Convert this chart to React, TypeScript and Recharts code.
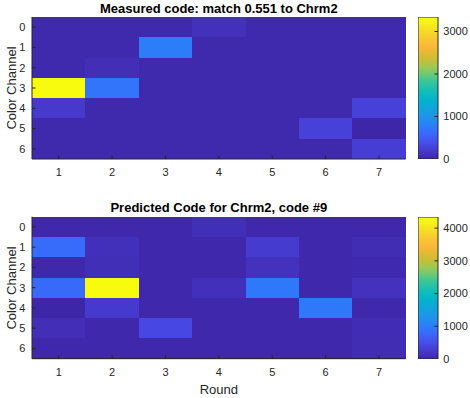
import React from 'react';
import { ScatterChart, Scatter, XAxis, YAxis, ReferenceArea, BarChart, Bar } from 'recharts';

// ---------------- data ----------------
const rounds = [1, 2, 3, 4, 5, 6, 7];
const channels = [0, 1, 2, 3, 4, 5, 6];

// rows = color channel 0..6, columns = round 1..7
const measuredCode = [
  [25, 25, 25, 100, 25, 25, 25],
  [25, 25, 780, 25, 25, 25, 25],
  [25, 80, 25, 25, 25, 25, 25],
  [3340, 700, 25, 25, 25, 25, 25],
  [185, 25, 25, 25, 25, 25, 270],
  [25, 25, 25, 25, 25, 270, 0],
  [25, 25, 25, 25, 25, 25, 240],
];

const predictedCode = [
  [30, 30, 30, 110, 30, 30, 30],
  [820, 120, 30, 30, 270, 30, 80],
  [30, 110, 30, 30, 150, 30, 40],
  [800, 4340, 30, 120, 950, 30, 150],
  [0, 260, 30, 30, 30, 950, 30],
  [100, 30, 430, 30, 30, 30, 90],
  [30, 30, 30, 30, 30, 30, 80],
];

const measuredColorbarTicks = [0, 1000, 2000, 3000];
const predictedColorbarTicks = [0, 1000, 2000, 3000, 4000];

const measuredTitle = 'Measured code: match 0.551 to Chrm2';
const predictedTitle = 'Predicted Code for Chrm2, code #9';
const yLabel = 'Color Channel';
const xLabel = 'Round';

// ---------------- style ----------------
const FONT = '"Liberation Sans", Arial, Helvetica, sans-serif';
const AXIS = '#262626';
const TICK_LEN = 3.5;
const TICK_FONT = 11;
const LEFT_MARGIN = 6.7;
const BOTTOM_MARGIN = 9.5;

// parula colormap anchors (t, r, g, b)
const PARULA: [number, number, number, number][] = [
  [0.0, 62, 38, 168],
  [0.05, 70, 55, 200],
  [0.1, 71, 72, 228],
  [0.15, 66, 92, 245],
  [0.2, 52, 113, 253],
  [0.25, 40, 132, 245],
  [0.3, 30, 148, 232],
  [0.35, 20, 162, 222],
  [0.4, 5, 175, 210],
  [0.45, 10, 185, 195],
  [0.5, 30, 192, 175],
  [0.55, 60, 198, 150],
  [0.6, 110, 202, 115],
  [0.65, 160, 200, 80],
  [0.7, 200, 190, 55],
  [0.75, 230, 185, 50],
  [0.8, 252, 185, 60],
  [0.85, 250, 200, 50],
  [0.9, 245, 220, 40],
  [0.95, 245, 238, 30],
  [1.0, 249, 251, 14],
];

function parula(t: number): string {
  const c = Math.max(0, Math.min(1, t));
  for (let i = 1; i < PARULA.length; i++) {
    const a = PARULA[i - 1];
    const b = PARULA[i];
    if (c <= b[0]) {
      const f = (c - a[0]) / (b[0] - a[0]);
      const r = Math.round(a[1] + (b[1] - a[1]) * f);
      const g = Math.round(a[2] + (b[2] - a[2]) * f);
      const bl = Math.round(a[3] + (b[3] - a[3]) * f);
      return `rgb(${r},${g},${bl})`;
    }
  }
  const l = PARULA[PARULA.length - 1];
  return `rgb(${l[1]},${l[2]},${l[3]})`;
}

// ---------------- ticks ----------------
const LeftTick = (props: any) => {
  const { x, y, payload } = props;
  return (
    <g>
      <line x1={x + LEFT_MARGIN} x2={x + LEFT_MARGIN + TICK_LEN} y1={y} y2={y} stroke={AXIS} strokeWidth={1} />
      <text x={x} y={y} dy="0.355em" textAnchor="end" fontSize={TICK_FONT} fill={AXIS} fontFamily={FONT}>
        {payload.value}
      </text>
    </g>
  );
};

const BottomTick = (props: any) => {
  const { x, y, payload } = props;
  return (
    <g>
      <line x1={x} x2={x} y1={y - BOTTOM_MARGIN} y2={y - BOTTOM_MARGIN - TICK_LEN} stroke={AXIS} strokeWidth={1} />
      <text x={x} y={y} dy="0.71em" textAnchor="middle" fontSize={TICK_FONT} fill={AXIS} fontFamily={FONT}>
        {payload.value}
      </text>
    </g>
  );
};

const RightTick = (props: any) => {
  const { x, y } = props;
  return <line x1={x} x2={x - TICK_LEN} y1={y} y2={y} stroke={AXIS} strokeWidth={1} />;
};

const TopTick = (props: any) => {
  const { x, y } = props;
  return <line x1={x} x2={x} y1={y} y2={y + TICK_LEN} stroke={AXIS} strokeWidth={1} />;
};

const CB_MARGIN = 5.3;
const ColorbarTick = (props: any) => {
  const { x, y, payload, index } = props;
  return (
    <g>
      {index > 0 ? (
        <line x1={x - CB_MARGIN} x2={x - CB_MARGIN - TICK_LEN} y1={y} y2={y} stroke={AXIS} strokeWidth={1} />
      ) : null}
      <text x={x} y={y} dy="0.355em" textAnchor="start" fontSize={TICK_FONT} fill={AXIS} fontFamily={FONT}>
        {payload.value}
      </text>
    </g>
  );
};

const CellShape = (props: any) => {
  const { x, y, width, height, fill } = props;
  return <rect x={x} y={y} width={width} height={height} fill={fill} stroke="none" shapeRendering="crispEdges" />;
};

// ---------------- heatmap ----------------
type HeatProps = {
  data: number[][];
  ticks: number[];
  top: number;
  plotTop: number;
  gradId: string;
};

function Heatmap({ data, ticks, top, plotTop, gradId }: HeatProps) {
  const flat = data.flat();
  const min = Math.min(...flat);
  const max = Math.max(...flat);
  const cells = channels.flatMap((ch, r) =>
    rounds.map((rd, c) => ({ round: rd, channel: ch, value: data[r][c] }))
  );
  const plotH = 142;
  const chartH = plotTop + plotH + 31;
  return (
    <>
      <div style={{ position: 'absolute', left: 0, top, width: 420, height: chartH }}>
        <ScatterChart width={420} height={chartH} margin={{ top: plotTop, right: 14.3, bottom: 0, left: 0 }}>
          {cells.map((cell, i) => (
            <ReferenceArea
              key={i}
              x1={cell.round - 0.5}
              x2={cell.round + 0.5}
              y1={cell.channel - 0.5}
              y2={cell.channel + 0.5}
              fill={parula((cell.value - min) / (max - min))}
              fillOpacity={1}
              stroke="none"
              ifOverflow="visible"
              shape={<CellShape />}
            />
          ))}
          <Scatter data={cells} dataKey="value" isAnimationActive={false} shape={() => <g />} />
          <XAxis
            type="number"
            dataKey="round"
            domain={[0.5, 7.5]}
            ticks={rounds}
            allowDataOverflow
            height={31}
            tickSize={0}
            tickMargin={BOTTOM_MARGIN}
            tickLine={false}
            axisLine={{ stroke: AXIS, strokeWidth: 1 }}
            tick={<BottomTick />}
            interval={0}
          />
          <XAxis
            xAxisId="top"
            orientation="top"
            type="number"
            domain={[0.5, 7.5]}
            ticks={rounds}
            allowDataOverflow
            height={0}
            tickSize={0}
            tickMargin={0}
            tickLine={false}
            axisLine={{ stroke: AXIS, strokeWidth: 1 }}
            tick={<TopTick />}
            interval={0}
          />
          <YAxis
            type="number"
            dataKey="channel"
            domain={[-0.5, 6.5]}
            ticks={channels}
            reversed
            allowDataOverflow
            width={32}
            tickSize={0}
            tickMargin={LEFT_MARGIN}
            tickLine={false}
            axisLine={{ stroke: AXIS, strokeWidth: 1 }}
            tick={<LeftTick />}
            interval={0}
          />
          <YAxis
            yAxisId="right"
            orientation="right"
            type="number"
            domain={[-0.5, 6.5]}
            ticks={channels}
            reversed
            allowDataOverflow
            width={0}
            tickSize={0}
            tickMargin={0}
            tickLine={false}
            axisLine={{ stroke: AXIS, strokeWidth: 1 }}
            tick={<RightTick />}
            interval={0}
          />
        </ScatterChart>
      </div>
      <div style={{ position: 'absolute', left: 418, top: top + plotTop - 8, width: 60, height: plotH + 16 }}>
        <BarChart
          width={60}
          height={plotH + 16}
          data={[{ name: 'scale', value: max }]}
          margin={{ top: 8, right: 0, bottom: 8, left: 0 }}
          barCategoryGap={0}
          barGap={0}
        >
          <XAxis dataKey="name" hide />
          <YAxis
            orientation="right"
            type="number"
            domain={[min, max]}
            ticks={ticks}
            allowDataOverflow
            width={40}
            tickSize={0}
            tickMargin={CB_MARGIN}
            tickLine={false}
            axisLine={false}
            tick={<ColorbarTick />}
            interval={0}
          />
          <Bar dataKey="value" fill={`url(#${gradId})`} stroke={AXIS} strokeWidth={1} isAnimationActive={false} />
        </BarChart>
      </div>
    </>
  );
}

const textBase: React.CSSProperties = {
  position: 'absolute',
  fontFamily: FONT,
  whiteSpace: 'nowrap',
  transform: 'translate(-50%, -50%)',
  lineHeight: 1,
};

export default function App() {
  return (
    <div style={{ position: 'absolute', left: 0, top: 0, width: 470, height: 398, background: '#fff', overflow: 'hidden' }}>
      <svg width={0} height={0} style={{ position: 'absolute' }}>
        <defs>
          {['gradMeasured', 'gradPredicted'].map((id) => (
            <linearGradient key={id} id={id} x1="0" y1="1" x2="0" y2="0">
              {PARULA.map((p, i) => (
                <stop key={i} offset={p[0]} stopColor={`rgb(${p[1]},${p[2]},${p[3]})`} />
              ))}
            </linearGradient>
          ))}
        </defs>
      </svg>

      <Heatmap data={measuredCode} ticks={measuredColorbarTicks} top={0} plotTop={17} gradId="gradMeasured" />
      <Heatmap data={predictedCode} ticks={predictedColorbarTicks} top={190} plotTop={26.7} gradId="gradPredicted" />

      <div style={{ ...textBase, left: 218.8, top: 8, fontSize: 13, fontWeight: 'bold', color: '#000' }}>{measuredTitle}</div>
      <div style={{ ...textBase, left: 218.8, top: 207, fontSize: 13, fontWeight: 'bold', color: '#000' }}>{predictedTitle}</div>
      <div style={{ ...textBase, left: 11, top: 88, fontSize: 13, color: AXIS, transform: 'translate(-50%, -50%) rotate(-90deg)' }}>{yLabel}</div>
      <div style={{ ...textBase, left: 11, top: 288, fontSize: 13, color: AXIS, transform: 'translate(-50%, -50%) rotate(-90deg)' }}>{yLabel}</div>
      <div style={{ ...textBase, left: 218.8, top: 389, fontSize: 13, color: AXIS }}>{xLabel}</div>
    </div>
  );
}
